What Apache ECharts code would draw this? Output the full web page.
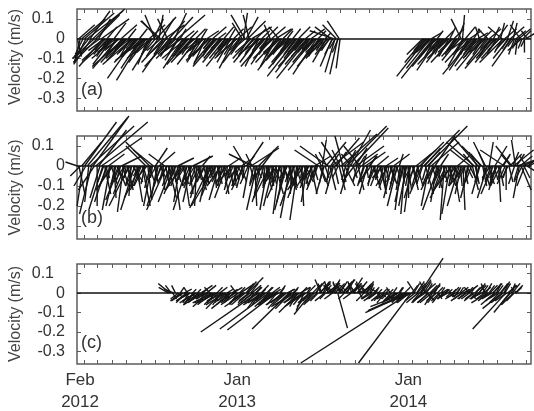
<!DOCTYPE html>
<html>
<head>
<meta charset="utf-8">
<script src="https://cdn.jsdelivr.net/npm/echarts@6/dist/echarts.min.js"></script>
<style>
  html, body { margin: 0; padding: 0; background: #fff; }
  #chart { width: 534px; height: 411px; }
</style>
</head>
<body>
<div id="chart"></div>
<script>
  // days counted from 1 Feb 2012
  const monthTickDays = [0, 29, 60, 90, 121, 151, 182, 213, 243, 274, 304, 335, 366, 394, 425, 455, 486, 516, 547, 578, 608, 639, 669, 700, 731, 759, 790, 820, 851, 881, 912, 943]
  const dateLabelDays = [0, 335, 700]
  const dateLabels = ['Feb\n2012', 'Jan\n2013', 'Jan\n2014']
  const velocityTicks = [0.1, 0, -0.1, -0.2, -0.3]
  const panelTags = ['(a)', '(b)', '(c)']

  // sticks: [day, u (m/s), v (m/s)]
  const sticksA = [
    [-14, 0.02, -0.09], [-11, 0.08, 0.07], [-8, -0.03, -0.12], [-5, 0.12, 0.1], [-2, -0.04, -0.08], [1, 0.15, 0.13], [4, -0.06, -0.12], [7, 0.18, 0.14], [10, -0.08, -0.1], [13, 0.1, 0.14], [16, -0.09, -0.13], [19, 0.16, 0.15], [22, -0.1, -0.09], [25, 0.12, 0.12], [28, -0.12, -0.12], [31, 0.06, 0.1], [34, -0.14, -0.1], [37, 0.14, 0.1], [40, -0.12, -0.14],
    [43, -0.08, -0.06], [46, -0.12, -0.11], [49, 0.05, 0.06], [52, -0.06, -0.09], [55, -0.14, -0.12], [58, -0.04, -0.05], [61, -0.1, -0.13], [64, 0.06, 0.08], [67, -0.12, -0.1], [70, -0.05, -0.07], [73, -0.13, -0.15], [76, -0.07, -0.05], [79, 0.08, 0.07], [82, -0.11, -0.12], [85, -0.16, -0.14], [88, -0.05, -0.06], [91, -0.1, -0.11], [94, 0.04, 0.05], [97, -0.12, -0.1], [100, -0.07, -0.08],
    [103, -0.15, -0.13], [106, -0.04, -0.05], [109, -0.14, -0.2], [112, -0.08, -0.09], [115, -0.12, -0.12], [118, 0.04, 0.05], [121, -0.1, -0.15], [124, -0.13, -0.21], [127, -0.06, -0.07], [130, -0.15, -0.11], [133, -0.09, -0.12], [136, -0.05, -0.13], [139, 0.08, 0.07], [142, -0.12, -0.1], [145, -0.1, -0.16], [148, 0.05, 0.1], [151, -0.05, 0.12], [154, 0.1, 0.11], [157, -0.08, 0.09], [160, 0.02, 0.12],
    [163, -0.1, 0.09], [166, 0.06, 0.1], [169, -0.11, -0.12], [172, 0.1, 0.07], [175, -0.12, -0.17], [178, -0.05, 0.1], [181, 0.08, 0.09], [184, -0.13, -0.14], [187, -0.07, -0.08], [190, 0.1, 0.11], [193, 0.06, 0.13], [196, -0.1, -0.1], [199, 0.14, 0.12], [202, -0.07, -0.11], [205, 0.03, 0.05], [208, -0.11, -0.08], [211, -0.1, -0.15], [214, 0.05, 0.04], [217, -0.12, -0.1], [220, -0.05, -0.06], [223, -0.11, -0.13], [226, 0.04, 0.04], [229, -0.08, -0.09],
    [232, -0.11, -0.12], [235, -0.05, -0.05], [238, 0.05, 0.05], [241, -0.1, -0.13], [244, -0.05, -0.1], [247, -0.12, -0.09], [250, 0.03, 0.05], [253, -0.08, -0.12], [256, -0.09, -0.07], [259, -0.06, -0.13], [262, 0.06, 0.04], [265, -0.08, -0.09], [268, -0.12, -0.11], [271, -0.04, -0.05], [274, 0.07, 0.06], [277, -0.1, -0.12], [280, -0.06, -0.07], [283, -0.12, -0.14], [286, 0.04, 0.03], [289, -0.08, -0.1], [292, -0.05, -0.05], [295, -0.1, -0.12], [298, 0.05, 0.06],
    [301, -0.08, -0.1], [304, -0.04, -0.04], [307, -0.11, -0.14], [310, 0.03, 0.05], [313, -0.07, -0.12], [316, -0.09, -0.08], [319, 0.05, 0.05], [322, -0.08, -0.15], [325, -0.11, -0.1], [328, 0.07, 0.06], [331, -0.05, -0.06], [334, -0.09, -0.12], [337, -0.05, 0.08], [340, 0.02, 0.13], [343, -0.07, 0.12], [346, 0.06, 0.11], [349, 0.09, 0.09], [352, -0.03, 0.12], [355, -0.09, -0.1], [358, 0.1, 0.06], [361, -0.1, -0.12], [364, -0.05, -0.05], [367, 0.05, 0.05],
    [370, -0.09, -0.12], [373, -0.07, -0.14], [376, -0.11, -0.08], [379, 0.04, 0.04], [382, -0.07, -0.1], [385, -0.12, -0.14], [388, 0.06, 0.06], [391, -0.04, -0.05], [394, -0.09, -0.13], [397, -0.03, 0.07], [400, 0.07, 0.06], [403, -0.1, -0.1], [406, -0.07, -0.14], [409, 0.08, 0.05], [412, -0.11, -0.12], [415, -0.05, 0.06], [418, -0.08, -0.08], [421, -0.12, -0.16], [424, 0.05, 0.05], [427, -0.06, -0.07], [430, -0.1, -0.11], [433, 0.03, 0.04], [436, -0.08, -0.13], [439, -0.11, -0.09],
    [442, -0.1, -0.12], [445, 0.04, 0.05], [448, -0.13, -0.15], [451, -0.06, -0.08], [454, -0.15, -0.19], [457, 0.06, 0.06], [460, -0.08, -0.1], [463, -0.13, -0.17], [466, -0.04, -0.05], [469, -0.13, -0.14], [472, 0.05, 0.04], [475, -0.11, -0.13], [478, -0.16, -0.2], [481, -0.06, -0.07], [484, 0.07, 0.05], [487, -0.1, -0.12], [490, -0.13, -0.16], [493, -0.05, -0.06], [496, -0.12, -0.18], [499, 0.04, 0.04],
    [502, -0.07, -0.09], [505, -0.12, -0.14], [508, -0.04, -0.04], [511, -0.09, -0.1], [514, 0.03, 0.03], [517, -0.07, -0.12], [520, -0.1, -0.08], [523, -0.04, -0.06], [526, -0.08, 0.06], [529, -0.06, -0.14], [532, -0.12, 0.04], [535, -0.05, -0.17], [538, -0.07, 0.07], [541, -0.04, -0.18], [544, -0.06, 0.09], [546, -0.02, -0.15],
    [722, -0.08, -0.08], [726, -0.1, -0.12], [730, -0.15, -0.19], [734, -0.05, -0.06], [738, -0.12, -0.15], [741, 0.05, 0.03], [744, -0.16, -0.2], [747, -0.08, -0.1], [750, -0.12, -0.14], [753, 0.03, 0.04], [756, -0.11, -0.16], [759, -0.06, -0.06], [762, -0.12, -0.13], [765, -0.04, -0.08], [768, -0.09, -0.12], [771, 0.04, 0.04], [774, -0.1, -0.1], [777, -0.05, -0.05], [780, 0.03, 0.06], [783, -0.07, -0.09],
    [786, -0.11, -0.12], [789, 0.05, 0.05], [792, -0.03, -0.05], [795, -0.06, -0.08], [798, 0.03, 0.08], [801, -0.09, -0.11], [804, -0.05, 0.1], [807, 0.01, 0.12], [810, -0.08, -0.14], [813, 0.05, 0.06], [816, -0.11, -0.12], [819, -0.06, -0.1], [822, 0.06, 0.04], [825, -0.11, -0.16], [828, -0.15, -0.18], [831, 0.03, 0.05], [834, -0.06, -0.08], [837, -0.11, -0.14], [840, 0.05, 0.03], [843, -0.02, 0.06],
    [846, -0.09, -0.1], [849, -0.13, -0.16], [852, 0.04, 0.04], [855, -0.06, -0.06], [858, -0.1, -0.13], [861, -0.05, 0.05], [864, 0.06, 0.05], [867, -0.13, -0.15], [870, -0.08, -0.1], [873, 0.03, 0.06], [876, -0.1, -0.12], [879, -0.05, -0.05], [882, 0.05, 0.07], [885, -0.09, -0.1], [888, 0.02, 0.08], [891, -0.07, 0.06], [894, -0.12, -0.12], [897, 0.06, 0.05], [900, -0.04, -0.04], [903, 0.03, 0.09],
    [906, -0.08, -0.1], [909, 0.07, 0.06], [912, -0.1, -0.14], [915, 0.02, 0.08], [918, -0.03, -0.08], [921, 0.05, 0.04], [924, -0.01, -0.08], [927, 0.06, 0.05], [930, -0.05, 0.07], [933, -0.07, -0.06], [936, 0.04, 0.04], [939, 0.0, -0.07], [942, 0.05, 0.03], [945, -0.03, 0.04],
    // shorter sticks between the ones above
    [44, -0.05, -0.06], [50, -0.07, -0.08], [56, -0.04, -0.05], [62, -0.08, -0.07], [68, -0.05, -0.09], [74, -0.07, -0.06], [80, -0.04, -0.07], [86, -0.08, -0.08], [92, -0.06, -0.05], [98, -0.05, -0.09],
    [104, -0.07, -0.07], [110, -0.04, -0.06], [116, -0.08, -0.09], [122, -0.06, -0.06], [128, -0.05, -0.08], [134, -0.07, -0.05], [140, -0.04, -0.08], [146, -0.08, -0.07], [152, -0.05, -0.06], [158, -0.06, -0.09],
    [164, -0.07, -0.06], [170, -0.05, -0.08], [176, -0.08, -0.07], [182, -0.04, -0.05], [188, -0.06, -0.09], [194, -0.07, -0.06], [200, -0.05, -0.08], [206, -0.08, -0.06], [212, -0.04, -0.07], [218, -0.07, -0.09],
    [224, -0.06, -0.05], [230, -0.05, -0.08], [236, -0.08, -0.07], [242, -0.04, -0.06], [248, -0.06, -0.09], [254, -0.07, -0.06], [260, -0.05, -0.07], [266, -0.08, -0.08], [272, -0.04, -0.05], [278, -0.06, -0.09],
    [284, -0.07, -0.07], [290, -0.05, -0.06], [296, -0.08, -0.08], [302, -0.04, -0.06], [308, -0.06, -0.09], [314, -0.07, -0.05], [320, -0.05, -0.08], [326, -0.08, -0.07], [332, -0.04, -0.06], [338, -0.06, -0.08],
    [344, -0.07, -0.06], [350, -0.05, -0.09], [356, -0.08, -0.07], [362, -0.04, -0.05], [368, -0.06, -0.08], [374, -0.07, -0.07], [380, -0.05, -0.06], [386, -0.08, -0.09], [392, -0.04, -0.06], [398, -0.06, -0.08],
    [404, -0.07, -0.05], [410, -0.05, -0.09], [416, -0.08, -0.07], [422, -0.04, -0.06], [428, -0.06, -0.08], [434, -0.07, -0.07], [440, -0.05, -0.06], [446, -0.08, -0.09], [452, -0.04, -0.05], [458, -0.06, -0.08],
    [464, -0.07, -0.07], [470, -0.05, -0.06], [476, -0.08, -0.09], [482, -0.04, -0.06], [488, -0.06, -0.08], [494, -0.07, -0.05], [500, -0.05, -0.09], [506, -0.08, -0.07], [512, -0.04, -0.06], [518, -0.06, -0.08],
    [524, -0.05, -0.06], [530, -0.04, -0.08], [536, -0.03, -0.05], [542, -0.03, -0.07],
    [724, -0.05, -0.06], [730, -0.07, -0.08], [736, -0.04, -0.05], [742, -0.08, -0.07], [748, -0.05, -0.09], [754, -0.07, -0.06], [760, -0.04, -0.07], [766, -0.08, -0.08], [772, -0.06, -0.05], [778, -0.05, -0.09],
    [784, -0.07, -0.07], [790, -0.04, -0.06], [796, -0.08, -0.09], [802, -0.06, -0.06], [808, -0.05, -0.08], [814, -0.07, -0.05], [820, -0.04, -0.08], [826, -0.08, -0.07], [832, -0.05, -0.06], [838, -0.06, -0.09],
    [844, -0.07, -0.06], [850, -0.05, -0.08], [856, -0.08, -0.07], [862, -0.04, -0.05], [868, -0.06, -0.09], [874, -0.07, -0.06], [880, -0.05, -0.08], [886, -0.06, -0.06], [892, -0.04, -0.07], [898, -0.05, -0.06],
    [904, -0.03, -0.05], [910, -0.04, -0.06], [916, -0.03, -0.04], [922, -0.02, -0.05], [928, -0.03, -0.04], [934, -0.02, -0.05], [940, -0.02, -0.04]
  ]

  const sticksB = [
    [-14, -0.06, 0.02], [-11, 0.03, -0.14], [-8, -0.05, -0.05], [-5, 0.1, 0.12], [-2, -0.03, -0.2], [1, 0.16, 0.22], [4, -0.06, -0.1], [7, 0.2, 0.24], [10, -0.02, -0.18], [13, 0.22, 0.2], [16, -0.06, -0.24], [19, 0.18, 0.25], [22, -0.08, -0.12], [25, 0.26, 0.22], [28, 0.0, -0.2], [31, 0.14, 0.18], [34, -0.05, -0.16], [37, 0.2, 0.14], [40, -0.07, -0.22],
    [44, 0.03, -0.14], [48, -0.06, -0.18], [52, 0.08, 0.06], [56, -0.04, -0.22], [60, -0.08, -0.12], [64, 0.01, -0.16], [68, -0.05, -0.2], [72, 0.04, -0.1], [76, -0.07, -0.17], [80, 0.1, 0.05], [84, -0.03, -0.23], [88, -0.06, -0.14], [92, 0.03, -0.12], [96, -0.1, -0.2], [100, -0.01, -0.15], [104, 0.05, -0.08], [108, -0.07, -0.22], [112, 0.03, -0.18], [116, -0.04, -0.12], [120, -0.08, -0.16],
    [124, 0.04, -0.2], [128, -0.05, -0.1], [132, -0.1, 0.1], [136, 0.02, -0.17], [140, -0.12, 0.12], [144, -0.04, -0.2], [148, -0.1, 0.08], [152, 0.06, 0.09], [156, -0.03, -0.16], [160, 0.08, 0.07], [164, -0.07, -0.2], [168, 0.01, -0.12], [172, -0.08, 0.06], [176, -0.1, -0.22], [180, 0.04, -0.16], [184, -0.04, -0.1], [188, -0.07, -0.18], [192, 0.03, -0.22], [196, -0.06, -0.14], [200, 0.08, 0.04],
    [204, -0.03, -0.18], [208, -0.08, -0.12], [212, 0.03, -0.2], [216, -0.05, -0.08], [220, -0.07, -0.22], [224, 0.02, -0.14], [228, -0.04, -0.18], [232, 0.1, 0.05], [236, -0.06, -0.1], [240, -0.01, -0.2], [244, 0.04, -0.12], [248, -0.05, -0.16], [252, 0.04, 0.05], [256, -0.07, -0.14], [260, 0.01, -0.08], [264, -0.04, -0.18], [268, -0.1, -0.21], [272, 0.03, -0.1], [276, -0.06, -0.15], [280, -0.12, -0.2],
    [284, 0.01, -0.06], [288, -0.05, -0.17], [292, -0.07, -0.1], [296, 0.03, -0.14], [300, -0.04, -0.08], [304, -0.06, -0.16], [308, 0.06, 0.04], [312, -0.03, -0.12], [316, -0.07, -0.08], [320, 0.01, -0.1], [324, -0.05, -0.14], [328, 0.03, -0.06], [332, -0.04, -0.1], [336, 0.04, 0.03], [340, -0.06, -0.12], [344, -0.06, 0.1], [348, 0.08, 0.12], [352, -0.03, -0.16], [356, 0.14, 0.09], [360, -0.12, 0.06],
    [364, 0.01, -0.2], [368, -0.05, -0.22], [372, 0.1, 0.1], [376, -0.03, -0.14], [380, 0.06, 0.08], [384, -0.06, -0.18], [388, 0.03, -0.12], [392, -0.04, -0.22], [396, -0.08, -0.16], [400, 0.01, -0.1], [404, -0.05, -0.2], [408, 0.04, -0.14], [412, -0.06, -0.08], [416, -0.03, -0.24], [420, -0.07, -0.16], [424, 0.03, -0.06], [428, -0.04, -0.18], [432, -0.06, -0.22], [436, 0.04, -0.12], [440, -0.05, -0.26],
    [444, -0.01, -0.14], [448, -0.07, -0.2], [452, 0.03, -0.1], [456, -0.04, -0.27], [460, -0.06, -0.16], [464, 0.01, -0.2], [468, -0.08, -0.12], [472, 0.04, -0.08], [476, -0.03, -0.18], [480, -0.06, -0.1], [484, 0.03, -0.14], [488, -0.04, -0.06], [492, 0.08, 0.05], [496, -0.05, -0.12], [500, -0.12, 0.08], [504, 0.04, -0.1], [508, 0.02, 0.13], [512, -0.04, -0.14], [516, 0.1, 0.12], [520, -0.14, 0.1],
    [524, 0.03, -0.12], [528, 0.16, 0.12], [532, -0.04, -0.14], [536, 0.12, 0.14], [540, -0.08, 0.12], [544, 0.03, -0.12], [548, 0.18, 0.16], [552, -0.04, 0.15], [556, 0.05, -0.1], [560, 0.2, 0.2], [564, -0.04, -0.14], [568, 0.1, 0.18], [572, 0.18, 0.19], [576, -0.06, -0.08], [580, 0.14, 0.1], [584, 0.03, -0.12], [588, -0.08, 0.1], [592, 0.08, 0.06], [596, -0.03, -0.1], [600, 0.1, 0.07],
    [604, -0.04, -0.14], [608, 0.04, 0.05], [612, -0.06, -0.08], [616, 0.04, -0.12], [620, -0.03, -0.06], [624, 0.06, 0.05], [628, -0.04, -0.1], [632, 0.03, -0.14], [636, -0.05, -0.06], [640, 0.01, -0.12], [644, 0.06, 0.04], [648, -0.06, -0.1], [652, 0.03, -0.08], [656, -0.04, -0.16], [660, 0.08, 0.06], [664, -0.03, -0.12], [668, -0.05, -0.2], [672, 0.02, 0.06], [676, -0.03, -0.22], [680, -0.04, -0.18],
    [684, -0.02, -0.24], [688, -0.04, -0.2], [692, 0.0, -0.16], [696, -0.03, -0.23], [700, 0.03, -0.12], [704, -0.05, -0.16], [708, 0.1, 0.08], [712, -0.03, -0.1], [716, 0.12, 0.12], [720, -0.06, -0.14], [724, 0.18, 0.18], [728, 0.04, -0.14], [732, 0.2, 0.2], [736, -0.04, -0.2], [740, 0.14, 0.12], [744, -0.06, -0.12], [748, 0.1, 0.15], [752, -0.03, -0.18], [756, -0.08, -0.22], [760, 0.04, 0.06],
    [764, -0.05, -0.14], [768, -0.02, -0.27], [772, -0.08, -0.16], [776, 0.04, -0.1], [780, -0.04, -0.24], [784, -0.09, -0.12], [788, 0.03, -0.18], [792, -0.05, -0.08], [796, 0.06, 0.05], [800, -0.06, -0.2], [804, -0.03, -0.14], [808, 0.01, -0.22], [812, -0.08, -0.1], [816, 0.03, -0.06], [820, -0.04, -0.16], [824, -0.1, 0.08], [828, 0.03, -0.12], [832, -0.14, 0.12], [836, 0.01, -0.08], [840, -0.12, 0.14],
    [844, -0.04, -0.14], [848, -0.1, 0.1], [852, 0.03, -0.1], [856, -0.06, 0.12], [860, -0.05, -0.16], [864, 0.02, 0.12], [868, -0.03, -0.08], [872, -0.06, -0.14], [876, 0.06, 0.1], [880, -0.04, -0.12], [884, 0.01, -0.18], [888, -0.05, -0.1], [892, 0.04, 0.06], [896, -0.12, 0.08], [900, 0.0, -0.12], [904, -0.03, -0.06], [908, 0.06, 0.06], [912, -0.08, 0.1], [916, 0.1, 0.08], [920, -0.02, 0.13],
    [924, 0.12, 0.04], [928, -0.03, -0.16], [932, 0.05, -0.12], [936, 0.14, 0.06], [940, -0.04, -0.1], [944, 0.1, -0.06], [948, 0.06, 0.03],
    // shorter sticks between the ones above
    [42, -0.03, -0.08], [46, 0.02, -0.06], [50, -0.04, -0.1], [54, -0.01, -0.07], [58, 0.03, -0.09], [62, -0.05, -0.06], [66, -0.02, -0.1], [70, 0.02, -0.05], [74, -0.04, -0.09], [78, -0.02, -0.07],
    [82, 0.03, -0.1], [86, -0.05, -0.08], [90, -0.01, -0.06], [94, 0.02, -0.11], [98, -0.04, -0.07], [102, -0.03, -0.09], [106, 0.02, -0.06], [110, -0.05, -0.1], [114, 0.01, -0.08], [118, -0.03, -0.05],
    [122, -0.04, -0.1], [126, 0.02, -0.07], [130, -0.02, -0.09], [134, -0.05, -0.06], [138, 0.03, -0.08], [142, -0.03, -0.11], [146, -0.01, -0.06], [150, 0.02, -0.09], [154, -0.04, -0.07], [158, -0.02, -0.1],
    [162, 0.03, -0.06], [166, -0.04, -0.09], [170, -0.02, -0.07], [174, 0.02, -0.1], [178, -0.05, -0.08], [182, -0.01, -0.06], [186, 0.03, -0.09], [190, -0.03, -0.11], [194, -0.02, -0.06], [198, 0.02, -0.08],
    [202, -0.04, -0.1], [206, -0.01, -0.07], [210, 0.03, -0.09], [214, -0.05, -0.06], [218, -0.02, -0.1], [222, 0.02, -0.08], [226, -0.03, -0.07], [230, -0.04, -0.11], [234, 0.01, -0.06], [238, -0.03, -0.09],
    [242, 0.02, -0.07], [246, -0.05, -0.1], [250, -0.01, -0.06], [254, 0.03, -0.09], [258, -0.04, -0.08], [262, -0.02, -0.1], [266, 0.02, -0.06], [270, -0.03, -0.09], [274, -0.05, -0.07], [278, 0.01, -0.11],
    [282, -0.03, -0.06], [286, 0.02, -0.09], [290, -0.04, -0.08], [294, -0.02, -0.1], [298, 0.03, -0.06], [302, -0.05, -0.09], [306, -0.01, -0.07], [310, 0.02, -0.1], [314, -0.03, -0.05], [318, -0.04, -0.09],
    [322, 0.02, -0.07], [326, -0.02, -0.1], [330, -0.05, -0.06], [334, 0.03, -0.08], [338, -0.03, -0.11], [342, -0.01, -0.06], [346, 0.04, 0.05], [350, -0.04, -0.09], [354, 0.02, -0.07], [358, -0.03, 0.06],
    [362, -0.02, -0.09], [366, 0.03, -0.06], [370, -0.04, -0.1], [374, -0.02, -0.07], [378, 0.02, -0.09], [382, -0.05, -0.06], [386, -0.01, -0.1], [390, 0.03, -0.08], [394, -0.03, -0.11], [398, -0.02, -0.06],
    [402, 0.02, -0.09], [406, -0.04, -0.07], [410, -0.02, -0.1], [414, 0.03, -0.06], [418, -0.05, -0.09], [422, -0.01, -0.11], [426, 0.02, -0.07], [430, -0.03, -0.1], [434, -0.04, -0.06], [438, 0.01, -0.09],
    [442, -0.03, -0.08], [446, 0.02, -0.11], [450, -0.04, -0.06], [454, -0.02, -0.1], [458, 0.03, -0.07], [462, -0.05, -0.09], [466, -0.01, -0.06], [470, 0.02, -0.1], [474, -0.03, -0.08], [478, -0.04, -0.11],
    [482, 0.01, -0.06], [486, -0.03, -0.09], [490, 0.02, -0.07], [494, -0.04, -0.1], [498, -0.02, -0.06], [502, 0.03, -0.08], [506, -0.03, 0.06], [510, -0.02, -0.09], [514, 0.02, -0.06], [518, -0.04, 0.07],
    [522, -0.01, -0.08], [526, 0.04, 0.06], [530, -0.03, -0.07], [534, 0.02, -0.09], [538, 0.05, 0.07], [542, -0.03, -0.06], [546, -0.04, 0.08], [550, 0.02, -0.08], [554, 0.06, 0.06], [558, -0.02, -0.07],
    [562, 0.04, 0.08], [566, -0.03, -0.09], [570, -0.05, 0.06], [574, 0.02, -0.06], [578, 0.06, 0.09], [582, -0.02, -0.08], [586, 0.03, 0.05], [590, -0.04, -0.07], [594, 0.02, 0.06], [598, -0.03, -0.09],
    [602, 0.01, -0.06], [606, -0.04, -0.08], [610, 0.03, 0.05], [614, -0.02, -0.1], [618, 0.02, -0.06], [622, -0.04, -0.09], [626, -0.01, -0.07], [630, 0.03, -0.1], [634, -0.03, -0.06], [638, -0.02, -0.09],
    [642, 0.02, -0.07], [646, -0.04, -0.11], [650, -0.01, -0.06], [654, 0.03, -0.09], [658, -0.03, -0.08], [662, -0.02, -0.1], [666, 0.02, -0.06], [670, -0.04, -0.09], [674, -0.02, -0.12], [678, 0.01, -0.08],
    [682, -0.03, -0.11], [686, -0.01, -0.09], [690, 0.02, -0.12], [694, -0.02, -0.1], [698, -0.04, -0.07], [702, 0.02, -0.09], [706, -0.03, -0.06], [710, 0.03, -0.1], [714, -0.02, -0.07], [718, 0.05, 0.06],
    [722, -0.03, -0.09], [726, 0.08, 0.09], [730, -0.02, -0.07], [734, 0.06, 0.07], [738, -0.04, -0.1], [742, 0.02, -0.06], [746, -0.03, -0.09], [750, -0.05, -0.07], [754, 0.02, -0.11], [758, -0.02, -0.06],
    [762, -0.04, -0.09], [766, 0.02, -0.08], [770, -0.03, -0.11], [774, -0.01, -0.06], [778, 0.03, -0.09], [782, -0.05, -0.08], [786, -0.02, -0.1], [790, 0.02, -0.06], [794, -0.03, -0.09], [798, -0.04, -0.07],
    [802, 0.01, -0.1], [806, -0.03, -0.06], [810, 0.02, -0.09], [814, -0.04, -0.07], [818, -0.02, -0.11], [822, 0.03, -0.06], [826, -0.03, -0.08], [830, -0.05, 0.06], [834, 0.02, -0.09], [838, -0.04, 0.07],
    [842, -0.02, -0.08], [846, -0.05, 0.06], [850, 0.02, -0.1], [854, -0.03, 0.07], [858, -0.02, -0.07], [862, 0.03, -0.09], [866, -0.04, -0.06], [870, -0.01, -0.1], [874, 0.02, -0.07], [878, -0.03, -0.09],
    [882, -0.04, -0.06], [886, 0.02, -0.1], [890, -0.02, -0.07], [894, 0.03, 0.05], [898, -0.04, -0.09], [902, -0.02, -0.06], [906, 0.02, -0.08], [910, -0.05, 0.06], [914, 0.03, 0.07], [918, -0.03, -0.09],
    [922, 0.04, 0.06], [926, -0.02, -0.07], [930, 0.06, 0.05], [934, -0.04, -0.08], [938, 0.03, -0.06], [942, -0.03, 0.05], [946, 0.05, 0.04]
  ]

  const sticksC = [
    [180, -0.05, 0.03], [183, -0.06, 0.05], [186, -0.03, 0.04], [189, 0.02, -0.03], [192, -0.05, 0.02], [195, -0.02, 0.04], [198, 0.03, -0.02], [201, -0.04, -0.03], [205, 0.02, 0.03], [209, -0.06, -0.04], [213, 0.04, 0.02], [217, -0.05, -0.05], [221, -0.02, 0.03], [225, -0.07, -0.04], [229, 0.03, -0.03], [233, -0.05, -0.06], [237, -0.08, -0.05], [241, 0.02, 0.02], [245, -0.06, -0.04], [249, 0.06, 0.04],
    [253, -0.1, -0.06], [257, -0.04, -0.03], [261, 0.05, 0.04], [265, -0.08, -0.07], [269, -0.03, 0.03], [273, -0.1, -0.05], [277, 0.02, -0.04], [281, -0.06, -0.06], [285, -0.12, -0.05], [289, 0.04, 0.03], [293, -0.08, -0.08], [297, -0.04, -0.03], [301, -0.1, -0.06], [305, 0.03, 0.02], [309, -0.06, -0.04], [313, -0.1, -0.08], [317, 0.05, 0.03], [321, -0.07, -0.05], [325, -0.03, 0.04], [329, -0.09, -0.06],
    [333, 0.06, 0.04], [337, -0.05, -0.04], [341, -0.1, -0.07], [345, 0.04, 0.05], [349, 0.08, 0.08], [353, -0.06, -0.05], [357, 0.05, 0.04], [361, -0.08, -0.06], [365, 0.03, 0.03], [369, -0.29, -0.2], [373, -0.06, -0.08], [377, 0.04, 0.04], [381, -0.1, -0.06], [385, -0.05, -0.04], [389, 0.03, 0.03], [393, -0.25, -0.185], [397, -0.08, -0.07], [401, 0.04, 0.03], [405, -0.06, -0.05], [409, -0.25, -0.19],
    [413, -0.1, -0.06], [417, 0.03, 0.04], [421, -0.07, -0.08], [425, -0.04, -0.03], [429, -0.1, -0.06], [433, 0.04, 0.02], [437, -0.19, -0.185], [441, -0.08, -0.08], [445, 0.03, 0.03], [449, -0.12, -0.07], [453, -0.05, -0.04], [457, -0.1, -0.1], [461, 0.05, 0.03], [465, -0.08, -0.06], [469, -0.04, -0.09], [473, -0.11, -0.07], [477, 0.04, 0.04], [481, -0.06, -0.05], [485, -0.09, -0.11], [489, -0.03, -0.03],
    [493, 0.05, 0.06], [497, -0.07, -0.06], [501, 0.06, 0.05], [505, -0.03, 0.07], [509, 0.04, 0.06], [513, -0.05, -0.04], [517, 0.07, 0.05], [521, -0.02, 0.06], [525, 0.05, 0.04], [529, -0.04, -0.03], [533, 0.03, 0.07], [537, -0.06, 0.04], [541, 0.05, -0.18], [545, 0.04, 0.06], [549, -0.03, 0.05], [553, 0.06, 0.07], [557, -0.05, 0.04], [561, 0.03, 0.06], [565, 0.07, 0.04], [569, -0.04, -0.03],
    [573, 0.05, 0.08], [577, -0.03, 0.05], [581, 0.04, 0.04], [585, 0.06, 0.03], [589, -0.02, 0.06], [593, 0.05, 0.05], [597, -0.04, -0.04], [601, 0.04, 0.06], [605, -0.03, 0.03], [609, 0.02, 0.05], [613, -0.05, -0.03], [617, 0.03, 0.03], [621, -0.06, -0.04], [625, 0.02, -0.03], [629, -0.04, 0.02], [633, -0.05, -0.04], [637, 0.02, 0.02], [641, -0.04, -0.05], [645, 0.03, -0.03], [649, -0.06, -0.03],
    [653, -0.02, 0.03], [657, -0.05, -0.05], [661, 0.03, -0.02], [665, -0.04, -0.03], [669, -0.07, -0.04], [673, 0.02, 0.03], [677, -0.05, -0.05], [681, -0.03, -0.03], [685, -0.18, -0.07], [688, -0.2, -0.09], [691, -0.22, -0.1], [694, -0.56, -0.36], [697, -0.27, -0.36], [700, -0.16, -0.06], [703, 0.03, 0.05], [706, -0.04, 0.06], [709, 0.04, 0.06], [712, -0.06, -0.05], [716, 0.12, 0.18], [719, 0.05, 0.07],
    [722, -0.05, -0.04], [725, 0.06, 0.05], [728, -0.03, 0.06], [731, 0.04, -0.04], [735, -0.06, -0.05], [739, 0.05, 0.04], [743, -0.04, -0.06], [747, 0.03, 0.05], [751, -0.05, -0.04], [755, 0.02, -0.03], [759, -0.04, -0.05], [763, 0.03, 0.02], [767, -0.03, -0.03], [771, 0.02, 0.02], [775, -0.04, -0.02], [779, 0.03, -0.02], [783, -0.02, 0.02], [787, 0.03, 0.03], [791, -0.05, -0.03], [795, 0.02, 0.03],
    [799, -0.03, -0.02], [803, 0.04, 0.03], [807, -0.06, -0.04], [811, 0.03, 0.02], [815, -0.04, -0.03], [819, 0.05, 0.04], [823, -0.03, 0.03], [827, 0.02, -0.03], [831, -0.05, -0.04], [835, 0.04, 0.04], [839, -0.03, -0.02], [843, 0.03, 0.05], [847, -0.06, -0.03], [851, 0.04, 0.03], [855, -0.02, 0.05], [859, -0.08, -0.05], [863, 0.03, 0.04], [867, -0.04, -0.02], [871, 0.05, 0.05], [875, -0.07, -0.06],
    [879, 0.02, 0.04], [883, -0.05, -0.03], [887, 0.04, 0.05], [891, -0.1, -0.08], [895, 0.03, 0.06], [899, -0.17, -0.185], [903, 0.05, 0.04], [907, -0.08, -0.1], [911, 0.02, 0.05], [915, -0.06, -0.06], [919, 0.04, 0.04], [923, -0.03, 0.03],
    // shorter sticks between the ones above
    [207, -0.04, -0.03], [211, -0.06, -0.04], [215, 0.02, -0.02], [219, -0.05, -0.04], [223, -0.03, -0.05], [227, -0.06, -0.03], [231, 0.02, 0.02], [235, -0.05, -0.05], [239, -0.07, -0.04], [243, -0.03, -0.03],
    [247, -0.06, -0.05], [251, 0.03, 0.02], [255, -0.07, -0.04], [259, -0.04, -0.05], [263, -0.06, -0.03], [267, 0.02, -0.03], [271, -0.07, -0.06], [275, -0.04, -0.03], [279, -0.08, -0.05], [283, 0.03, 0.03],
    [287, -0.06, -0.05], [291, -0.04, -0.06], [295, -0.08, -0.04], [299, 0.02, -0.02], [303, -0.06, -0.05], [307, -0.03, -0.04], [311, -0.07, -0.06], [315, 0.03, 0.02], [319, -0.05, -0.05], [323, -0.08, -0.04],
    [327, -0.04, -0.06], [331, 0.03, 0.03], [335, -0.06, -0.05], [339, -0.04, -0.03], [343, -0.07, -0.06], [347, 0.05, 0.06], [351, -0.05, -0.04], [355, 0.04, 0.05], [359, -0.06, -0.05], [363, -0.03, -0.04],
    [367, 0.03, 0.03], [371, -0.07, -0.05], [375, -0.04, -0.06], [379, 0.02, 0.02], [383, -0.08, -0.05], [387, -0.05, -0.04], [391, 0.03, 0.03], [395, -0.06, -0.06], [399, -0.04, -0.03], [403, -0.07, -0.05],
    [407, 0.03, 0.02], [411, -0.05, -0.06], [415, -0.08, -0.04], [419, 0.02, 0.03], [423, -0.06, -0.05], [427, -0.04, -0.04], [431, -0.07, -0.06], [435, 0.03, 0.02], [439, -0.05, -0.05], [443, -0.08, -0.06],
    [447, 0.02, 0.02], [451, -0.06, -0.05], [455, -0.04, -0.07], [459, -0.08, -0.05], [463, 0.03, 0.03], [467, -0.05, -0.06], [471, -0.07, -0.04], [475, 0.02, 0.03], [479, -0.06, -0.07], [483, -0.04, -0.04],
    [487, 0.04, 0.04], [491, -0.05, -0.05], [495, 0.03, 0.05], [499, -0.04, -0.04], [503, 0.05, 0.06], [507, -0.02, 0.05], [511, 0.04, 0.04], [515, -0.03, -0.03], [519, 0.06, 0.05], [523, -0.03, 0.04],
    [527, 0.04, 0.06], [531, -0.04, 0.03], [535, 0.05, 0.05], [539, -0.02, 0.06], [543, 0.03, 0.04], [547, -0.04, 0.05], [551, 0.05, 0.06], [555, -0.03, -0.03], [559, 0.04, 0.07], [563, -0.04, 0.04],
    [567, 0.06, 0.05], [571, -0.02, 0.06], [575, 0.04, 0.05], [579, -0.03, 0.04], [583, 0.05, 0.06], [587, 0.02, -0.03], [591, -0.03, 0.05], [595, 0.04, 0.04], [599, -0.02, 0.03], [603, 0.03, 0.04],
    [607, -0.04, -0.03], [611, 0.02, 0.03], [615, -0.03, -0.03], [619, 0.02, 0.02], [623, -0.04, -0.03], [627, 0.02, 0.02], [631, -0.03, -0.04], [635, 0.02, -0.02], [639, -0.04, -0.03], [643, 0.02, 0.02],
    [647, -0.03, -0.03], [651, 0.02, 0.02], [655, -0.04, -0.04], [659, 0.02, 0.03], [663, -0.05, -0.04], [667, -0.03, -0.03], [671, 0.02, 0.03], [675, -0.05, -0.04], [679, -0.03, -0.05], [683, 0.03, 0.03],
    [687, -0.05, -0.04], [693, -0.06, -0.05], [699, 0.03, 0.04], [705, -0.05, -0.04], [711, 0.04, 0.05], [715, -0.04, -0.05], [718, 0.03, 0.04], [721, -0.05, -0.05], [724, 0.04, 0.06], [727, -0.06, -0.04],
    [730, 0.03, 0.05], [733, -0.05, -0.05], [737, 0.04, 0.04], [741, -0.06, -0.05], [745, 0.03, 0.04], [749, -0.04, -0.05], [753, 0.03, 0.03], [757, -0.04, -0.04], [761, 0.02, 0.03], [765, -0.03, -0.03],
    [769, 0.02, 0.02], [773, -0.03, -0.02], [777, 0.02, 0.02], [781, -0.02, -0.02], [785, 0.02, 0.02], [789, -0.03, -0.02], [793, 0.02, 0.02], [797, -0.03, -0.02], [801, 0.02, 0.03], [805, -0.04, -0.03],
    [809, 0.03, 0.02], [813, -0.04, -0.03], [817, 0.03, 0.03], [821, -0.04, -0.03], [825, 0.02, 0.03], [829, -0.04, -0.03], [833, 0.03, 0.03], [837, -0.03, -0.03], [841, 0.04, 0.04], [845, -0.05, -0.03],
    [849, 0.03, 0.04], [853, -0.04, -0.03], [857, 0.03, 0.05], [861, -0.05, -0.04], [865, 0.04, 0.04], [869, -0.05, -0.03], [873, 0.04, 0.05], [877, -0.05, -0.04], [881, 0.03, 0.04], [885, -0.05, -0.05],
    [889, 0.04, 0.05], [893, -0.06, -0.05], [897, 0.03, 0.05], [901, -0.06, -0.04], [905, 0.04, 0.04], [909, -0.05, -0.06], [913, 0.04, 0.05], [917, -0.04, -0.04], [921, 0.03, 0.03]
  ]

  const panels = [sticksA, sticksB, sticksC]
  const grids = [
    { left: 77, top: 9, width: 454, height: 102 },
    { left: 77, top: 136, width: 454, height: 103 },
    { left: 77, top: 264, width: 454, height: 100 }
  ]
  const font = 'Liberation Sans, Arial, sans-serif'
  const frameColor = '#5c5c5c'
  const xMin = -15
  const xMax = 953
  const yMin = -0.365
  const yMax = 0.15

  const tickStyle = { inside: true, length: 4, lineStyle: { color: frameColor, width: 1 } }
  const noLine = { show: false, onZero: false }

  const xAxis = []
  const yAxis = []
  const series = []
  const graphic = []

  grids.forEach((g, i) => {
    const last = i === grids.length - 1
    // bottom axis
    xAxis.push({
      type: 'value', gridIndex: i, position: 'bottom', min: xMin, max: xMax,
      axisLine: noLine,
      splitLine: { show: false },
      axisTick: Object.assign({ customValues: monthTickDays }, tickStyle),
      axisLabel: {
        show: last,
        customValues: dateLabelDays,
        formatter: v => dateLabels[dateLabelDays.indexOf(v)] || '',
        fontFamily: font, fontSize: 17, color: '#333', lineHeight: 22,
        margin: 5, padding: [0, 8, 0, 0]
      }
    })
    // top axis, ticks only
    xAxis.push({
      type: 'value', gridIndex: i, position: 'top', min: xMin, max: xMax,
      axisLine: noLine,
      splitLine: { show: false },
      axisTick: Object.assign({ customValues: monthTickDays }, tickStyle),
      axisLabel: { show: false }
    })
    yAxis.push({
      type: 'value', gridIndex: i, position: 'left', min: yMin, max: yMax,
      axisLine: noLine,
      splitLine: { show: false },
      axisTick: Object.assign({ customValues: velocityTicks }, tickStyle),
      axisLabel: {
        customValues: velocityTicks,
        formatter: v => {
          const s = String(+v.toFixed(1))
          return s === '0.1' ? '{p|0.1}' : s
        },
        rich: { p: { fontFamily: font, fontSize: 16, color: '#333', padding: [0, 11, 0, 0] } },
        fontFamily: font, fontSize: 16, color: '#333', margin: 12
      }
    })
    yAxis.push({
      type: 'value', gridIndex: i, position: 'right', min: yMin, max: yMax,
      axisLine: noLine,
      splitLine: { show: false },
      axisTick: Object.assign({ customValues: velocityTicks }, tickStyle),
      axisLabel: { show: false }
    })

    series.push({
      type: 'custom',
      xAxisIndex: i * 2,
      yAxisIndex: i * 2,
      clip: false,
      silent: true,
      dimensions: ['day', 'u', 'v'],
      encode: { x: 0, y: 2 },
      data: panels[i],
      renderItem: (params, api) => {
        const base = api.coord([api.value(0), 0])
        // pixels per m/s, same scale for both components
        const k = api.size([0, 1])[1]
        return {
          type: 'line',
          shape: {
            x1: base[0], y1: base[1],
            x2: base[0] + api.value(1) * k,
            y2: base[1] - api.value(2) * k
          },
          style: { stroke: '#161616', lineWidth: 1.4 }
        }
      },
      markLine: {
        silent: true,
        symbol: 'none',
        label: { show: false },
        lineStyle: { color: '#111', width: 1.6, type: 'solid' },
        data: [{ yAxis: 0 }]
      },
      z: 3
    })

    // panel tag
    graphic.push({
      type: 'text', left: 81, top: g.top + g.height - 30,
      style: { text: panelTags[i], font: '18px ' + font, fill: '#333' }
    })
    // y axis title
    graphic.push({
      type: 'text',
      x: 16, y: g.top + g.height / 2 - (i === 0 ? 3 : 0),
      rotation: Math.PI / 2,
      style: {
        text: 'Velocity (m/s)', font: '16px ' + font, fill: '#444',
        align: 'center', verticalAlign: 'middle'
      }
    })
  })

  const chart = echarts.init(document.getElementById('chart'), null, { renderer: 'canvas' })
  chart.setOption({
    animation: false,
    backgroundColor: '#fff',
    // outerBoundsMode 'none': keep the grids exactly where they are set
    grid: grids.map(g => Object.assign({ show: true, borderColor: frameColor, borderWidth: 1.5, backgroundColor: 'transparent', outerBoundsMode: 'none' }, g)),
    xAxis: xAxis,
    yAxis: yAxis,
    series: series,
    graphic: graphic
  })
</script>
</body>
</html>
